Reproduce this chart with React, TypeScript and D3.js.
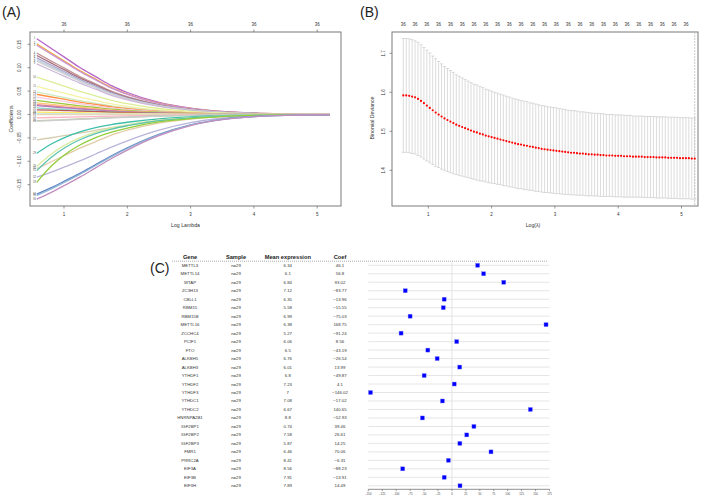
import React from 'react';
import * as d3 from 'd3';

const FONT = "'Liberation Sans', Arial, Helvetica, sans-serif";

// ---------- Panel A: coefficient paths ----------
const pathGridLogLambda = [0.57, 0.8, 1, 1.25, 1.5, 1.75, 2, 2.5, 3, 3.5, 4, 4.5, 5.2];
const shrinkProfiles = [
  [1, 0.87, 0.76, 0.62, 0.5, 0.38, 0.29, 0.16, 0.085, 0.04, 0.018, 0.008, 0.002],
  [1, 0.92, 0.84, 0.74, 0.63, 0.52, 0.42, 0.25, 0.13, 0.06, 0.025, 0.01, 0.003],
  [1, 0.76, 0.6, 0.45, 0.34, 0.26, 0.2, 0.11, 0.06, 0.03, 0.014, 0.006, 0.002],
];
const pathStart = [
  0.162, 0.151, 0.148, 0.131, 0.126, 0.121, 0.117, 0.114, 0.108,
  0.08, 0.06, 0.048, 0.043, 0.037, 0.03, 0.025, 0.021, 0.019, 0.014,
  0.01, 0.005, 0.002, 0.0, -0.007, -0.013, -0.014,
  -0.054, -0.083, -0.111, -0.116, -0.12, -0.134, -0.145,
  -0.17, -0.173, -0.181,
];
const pathProfile = [
  0, 0, 0, 0, 0, 0, 0, 0, 0,
  0, 0, 0, 0, 0, 0, 0, 0, 0, 0,
  1, 1, 1, 1, 1, 1, 1,
  1, 2, 2, 0, 2, 1, 2,
  1, 1, 1,
];
const pathColor = [
  '#B565C8', '#F2A93B', '#C890D6', '#C49A9A', '#A8707F', '#A9A3CC', '#B9CBDD', '#D3D3D3', '#CDB8D9',
  '#DCEE96', '#F4F3A4', '#CDEBC0', '#FF9045', '#F9C9DF', '#9CC63B', '#FDC47A', '#F08A84', '#B47CC0', '#8DD3C7',
  '#B85C5C', '#FFE866', '#C7E9F0', '#E5D8BD', '#FBB4C4', '#B5CFA0', '#CCCCCC',
  '#D6CDAE', '#3FBFAA', '#D9EBA3', '#E2CCA8', '#5EC4B0', '#B9B4DA', '#92CE3A',
  '#5F84C2', '#8DB6D6', '#C38EBF',
];
const coefTicks = [-0.15, -0.1, -0.05, 0, 0.05, 0.1, 0.15];
const logLambdaTicks = [1, 2, 3, 4, 5];
const nonzeroA = ['36', '36', '36', '36', '36'];

// ---------- Panel B: cross-validation ----------
const cvLogLambdaFirst = 0.605;
const cvLogLambdaLast = 5.209;
const cvMean = [
  1.592, 1.592, 1.591, 1.589, 1.587, 1.583, 1.578, 1.572, 1.566, 1.56,
  1.554, 1.548, 1.543, 1.538, 1.533, 1.529, 1.525, 1.521, 1.517, 1.514,
  1.511, 1.508, 1.505, 1.502, 1.499, 1.497, 1.494, 1.492, 1.489, 1.487,
  1.485, 1.483, 1.481, 1.479, 1.477, 1.475, 1.473, 1.471, 1.469, 1.467,
  1.466, 1.464, 1.463, 1.461, 1.46, 1.458, 1.457, 1.455, 1.454, 1.453,
  1.452, 1.451, 1.45, 1.449, 1.448, 1.447, 1.446, 1.445, 1.445, 1.444,
  1.443, 1.443, 1.442, 1.441, 1.441, 1.44, 1.44, 1.439, 1.439, 1.438,
  1.438, 1.438, 1.437, 1.437, 1.437, 1.436, 1.436, 1.436, 1.435, 1.435,
  1.435, 1.435, 1.434, 1.434, 1.434, 1.434, 1.433, 1.433, 1.433, 1.433,
  1.432, 1.432, 1.432, 1.432, 1.431, 1.431, 1.431, 1.431, 1.43, 1.43,
];
const cvSd = [
  0.146, 0.146, 0.146, 0.146, 0.145, 0.145, 0.144, 0.143, 0.142, 0.141,
  0.139, 0.138, 0.136, 0.135, 0.133, 0.132, 0.131, 0.13, 0.128, 0.127,
  0.126, 0.125, 0.124, 0.123, 0.122, 0.122, 0.121, 0.12, 0.119, 0.119,
  0.118, 0.117, 0.117, 0.116, 0.116, 0.115, 0.115, 0.114, 0.114, 0.114,
  0.113, 0.113, 0.113, 0.112, 0.112, 0.112, 0.111, 0.111, 0.111, 0.11,
  0.11, 0.11, 0.11, 0.109, 0.109, 0.109, 0.108, 0.108, 0.108, 0.108,
  0.107, 0.107, 0.107, 0.107, 0.106, 0.106, 0.106, 0.106, 0.106, 0.105,
  0.105, 0.105, 0.105, 0.105, 0.105, 0.105, 0.105, 0.105, 0.104, 0.104,
  0.104, 0.104, 0.104, 0.104, 0.104, 0.104, 0.104, 0.104, 0.104, 0.104,
  0.104, 0.104, 0.104, 0.104, 0.104, 0.104, 0.104, 0.104, 0.104, 0.104,
];
const devianceTicks = [1.4, 1.5, 1.6, 1.7];
const nonzeroB = '36';

// ---------- Panel C: forest table ----------
const genes = ['METTL3', 'METTL14', 'WTAP', 'ZC3H13', 'CBLL1', 'RBM15', 'RBM15B', 'METTL16', 'ZCCHC4', 'PCIF1', 'FTO', 'ALKBH5', 'ALKBH3', 'YTHDF1', 'YTHDF2', 'YTHDF3', 'YTHDC1', 'YTHDC2', 'HNRNPA2B1', 'IGF2BP1', 'IGF2BP2', 'IGF2BP3', 'FMR1', 'PRRC2A', 'EIF3A', 'EIF3B', 'EIF3H'];
const sampleLabel = 'n=29';
const meanExpression = [6.34, 6.1, 6.84, 7.12, 6.35, 5.58, 6.99, 6.38, 5.27, 6.06, 6.5, 6.76, 6.01, 6.8, 7.23, 7, 7.08, 6.67, 8.8, 0.74, 7.58, 5.87, 6.46, 8.41, 8.56, 7.91, 7.89];
const coefs = [46.1, 56.8, 93.02, -83.77, -13.96, -15.55, -75.03, 168.75, -91.24, 8.56, -43.19, -26.54, 13.99, -49.87, 4.1, -146.02, -17.02, 140.65, -52.93, 39.46, 26.61, 14.25, 70.06, -6.31, -88.23, -13.91, 14.49];
const forestTicks = [-150, -125, -100, -75, -50, -25, 0, 25, 50, 75, 100, 125, 150, 175];
const headers = ['Gene', 'Sample', 'Mean expression', 'Coef'];

const fmt = (v: number) => (v < 0 ? '\u2212' + String(Math.abs(v)) : String(v));
const fmtTick = (v: number) => (v < 0 ? '\u2212' + d3.format('.2f')(Math.abs(v)) : d3.format('.2f')(v));

function PanelA() {
  const box = { l: 30, r: 341, t: 32, b: 206 };
  const x = d3.scaleLinear().domain([1, 5]).range([64, 317.2]);
  const y = d3.scaleLinear().domain([0, 0.15]).range([114.5, 44.3]);
  const line = d3.line<[number, number]>().x(d => x(d[0])).y(d => y(d[1])).curve(d3.curveMonotoneX);
  return (
    <g>
      <text x={2} y={17} fontSize={14} fontFamily={FONT} fill="#222">(A)</text>
      <rect x={box.l} y={box.t} width={box.r - box.l} height={box.b - box.t} fill="white" stroke="#7a7a7a" strokeWidth={1} />
      {pathStart.map((c0, i) => {
        const prof = shrinkProfiles[pathProfile[i]];
        const pts: [number, number][] = pathGridLogLambda.map((L, k) => [L, c0 * prof[k]]);
        return <path key={i} d={line(pts) || ''} fill="none" stroke={pathColor[i]} strokeWidth={1.3} />;
      })}
      {pathStart.map((c0, i) => (
        <text key={'l' + i} x={34.5} y={y(c0)} fontSize={2.6} fontFamily={FONT} fill="#555" textAnchor="middle" dominantBaseline="central">{i + 1}</text>
      ))}
      {logLambdaTicks.map((t, i) => (
        <g key={t}>
          <line x1={x(t)} x2={x(t)} y1={box.b} y2={box.b + 2.5} stroke="#555" strokeWidth={0.6} />
          <text x={x(t)} y={216} fontSize={4.5} fontFamily={FONT} textAnchor="middle" fill="#333">{t}</text>
          <line x1={x(t)} x2={x(t)} y1={box.t} y2={box.t - 2.5} stroke="#555" strokeWidth={0.6} />
          <text x={x(t)} y={25.7} fontSize={4.5} fontFamily={FONT} textAnchor="middle" fill="#333">{nonzeroA[i]}</text>
        </g>
      ))}
      {coefTicks.map(t => (
        <g key={t}>
          <line x1={box.l} x2={box.l - 2.5} y1={y(t)} y2={y(t)} stroke="#555" strokeWidth={0.6} />
          <text transform={`translate(21,${y(t)}) rotate(-90)`} fontSize={4.5} fontFamily={FONT} textAnchor="middle" fill="#333">{fmtTick(t)}</text>
        </g>
      ))}
      <text x={(box.l + box.r) / 2} y={227} fontSize={5.2} fontFamily={FONT} textAnchor="middle" fill="#333">Log Lambda</text>
      <text transform={`translate(13,${(box.t + box.b) / 2}) rotate(-90)`} fontSize={5.2} fontFamily={FONT} textAnchor="middle" fill="#333">Coefficients</text>
    </g>
  );
}

function PanelB() {
  const box = { l: 392, r: 698, t: 32, b: 206 };
  const x = d3.scaleLinear().domain([1, 5]).range([428.3, 681.5]);
  const y = d3.scaleLinear().domain([1.4, 1.7]).range([170.3, 53.3]);
  const n = cvMean.length;
  const step = (cvLogLambdaLast - cvLogLambdaFirst) / (n - 1);
  const lam = cvMean.map((_, i) => cvLogLambdaFirst + i * step);
  return (
    <g>
      <text x={360} y={17} fontSize={14} fontFamily={FONT} fill="#222">(B)</text>
      <rect x={box.l} y={box.t} width={box.r - box.l} height={box.b - box.t} fill="white" stroke="#7a7a7a" strokeWidth={1} />
      {cvMean.map((m, i) => {
        const xi = x(lam[i]);
        const hi = y(m + cvSd[i]);
        const lo = y(m - cvSd[i]);
        return (
          <g key={i} stroke="#c4c4c4" strokeWidth={0.6}>
            <line x1={xi} x2={xi} y1={hi} y2={lo} />
            <line x1={xi - 1.6} x2={xi + 1.6} y1={hi} y2={hi} />
            <line x1={xi - 1.6} x2={xi + 1.6} y1={lo} y2={lo} />
          </g>
        );
      })}
      <line x1={x(lam[n - 1])} x2={x(lam[n - 1])} y1={box.t} y2={box.b} stroke="#bdbdbd" strokeWidth={0.8} strokeDasharray="2,1" />
      {cvMean.map((m, i) => (
        <circle key={'p' + i} cx={x(lam[i])} cy={y(m)} r={1.1} fill="#ff0000" />
      ))}
      {lam.map((L, i) => (i % 4 === 0 ? (
        <text key={'n' + i} x={x(L)} y={25.7} fontSize={4.5} fontFamily={FONT} textAnchor="middle" fill="#333">{nonzeroB}</text>
      ) : null))}
      {logLambdaTicks.map(t => (
        <g key={t}>
          <line x1={x(t)} x2={x(t)} y1={box.b} y2={box.b + 2.5} stroke="#555" strokeWidth={0.6} />
          <text x={x(t)} y={216} fontSize={4.5} fontFamily={FONT} textAnchor="middle" fill="#333">{t}</text>
        </g>
      ))}
      {devianceTicks.map(t => (
        <g key={t}>
          <line x1={box.l} x2={box.l - 2.5} y1={y(t)} y2={y(t)} stroke="#555" strokeWidth={0.6} />
          <text transform={`translate(385,${y(t)}) rotate(-90)`} fontSize={4.5} fontFamily={FONT} textAnchor="middle" fill="#333">{t.toFixed(1)}</text>
        </g>
      ))}
      <text x={533} y={226.5} fontSize={5.2} fontFamily={FONT} textAnchor="middle" fill="#333">Log(λ)</text>
      <text transform={`translate(374,118) rotate(-90)`} fontSize={5.2} fontFamily={FONT} textAnchor="middle" fill="#333">Binomial Deviance</text>
    </g>
  );
}

function PanelC() {
  const xF = d3.scaleLinear().domain([-150, 175]).range([368.3, 549.5]);
  const yR = d3.scalePoint<string>().domain(genes).range([265.3, 485.8]);
  const colX = [190, 236, 287.8, 340];
  const axisY = 489.3;
  return (
    <g fontFamily={FONT}>
      <text x={150} y={273} fontSize={14} fill="#222">(C)</text>
      {headers.map((h, i) => (
        <text key={h} x={colX[i]} y={257.3} fontSize={5.7} fontWeight="bold" textAnchor="middle" dominantBaseline="central" fill="#222">{h}</text>
      ))}
      <line x1={172} x2={548} y1={261.2} y2={261.2} stroke="#777" strokeWidth={0.6} strokeDasharray="1,1" />
      <line x1={xF(0)} x2={xF(0)} y1={262} y2={axisY} stroke="#dddddd" strokeWidth={0.8} />
      {genes.map((g, i) => {
        const yy = yR(g) as number;
        return (
          <g key={g}>
            <line x1={xF(-150)} x2={xF(175)} y1={yy} y2={yy} stroke="#e2e2e2" strokeWidth={0.9} />
            <text x={colX[0]} y={yy} fontSize={4.3} textAnchor="middle" dominantBaseline="central" fill="#333">{g}</text>
            <text x={colX[1]} y={yy} fontSize={4.3} textAnchor="middle" dominantBaseline="central" fill="#333">{sampleLabel}</text>
            <text x={colX[2]} y={yy} fontSize={4.3} textAnchor="middle" dominantBaseline="central" fill="#333">{String(meanExpression[i])}</text>
            <text x={colX[3]} y={yy} fontSize={4.3} textAnchor="middle" dominantBaseline="central" fill="#333">{fmt(coefs[i])}</text>
          </g>
        );
      })}
      {coefs.map((c, i) => (
        <rect key={'s' + i} x={xF(c) - 2} y={(yR(genes[i]) as number) - 2} width={4} height={4} fill="#0000ff" stroke="#7f7fff" strokeWidth={0.4} />
      ))}
      <line x1={xF(-150)} x2={xF(175)} y1={axisY} y2={axisY} stroke="#444" strokeWidth={0.6} />
      {forestTicks.map(t => (
        <g key={t}>
          <line x1={xF(t)} x2={xF(t)} y1={axisY} y2={axisY + 1.8} stroke="#444" strokeWidth={0.5} />
          <text x={xF(t)} y={495} fontSize={2.8} textAnchor="middle" fill="#444">{fmt(t)}</text>
        </g>
      ))}
    </g>
  );
}

export default function App() {
  return (
    <svg width={709} height={498} viewBox="0 0 709 498" style={{ position: 'absolute', left: 0, top: 0, background: 'white' }}>
      <rect x={0} y={0} width={709} height={498} fill="white" />
      <PanelA />
      <PanelB />
      <PanelC />
    </svg>
  );
}
